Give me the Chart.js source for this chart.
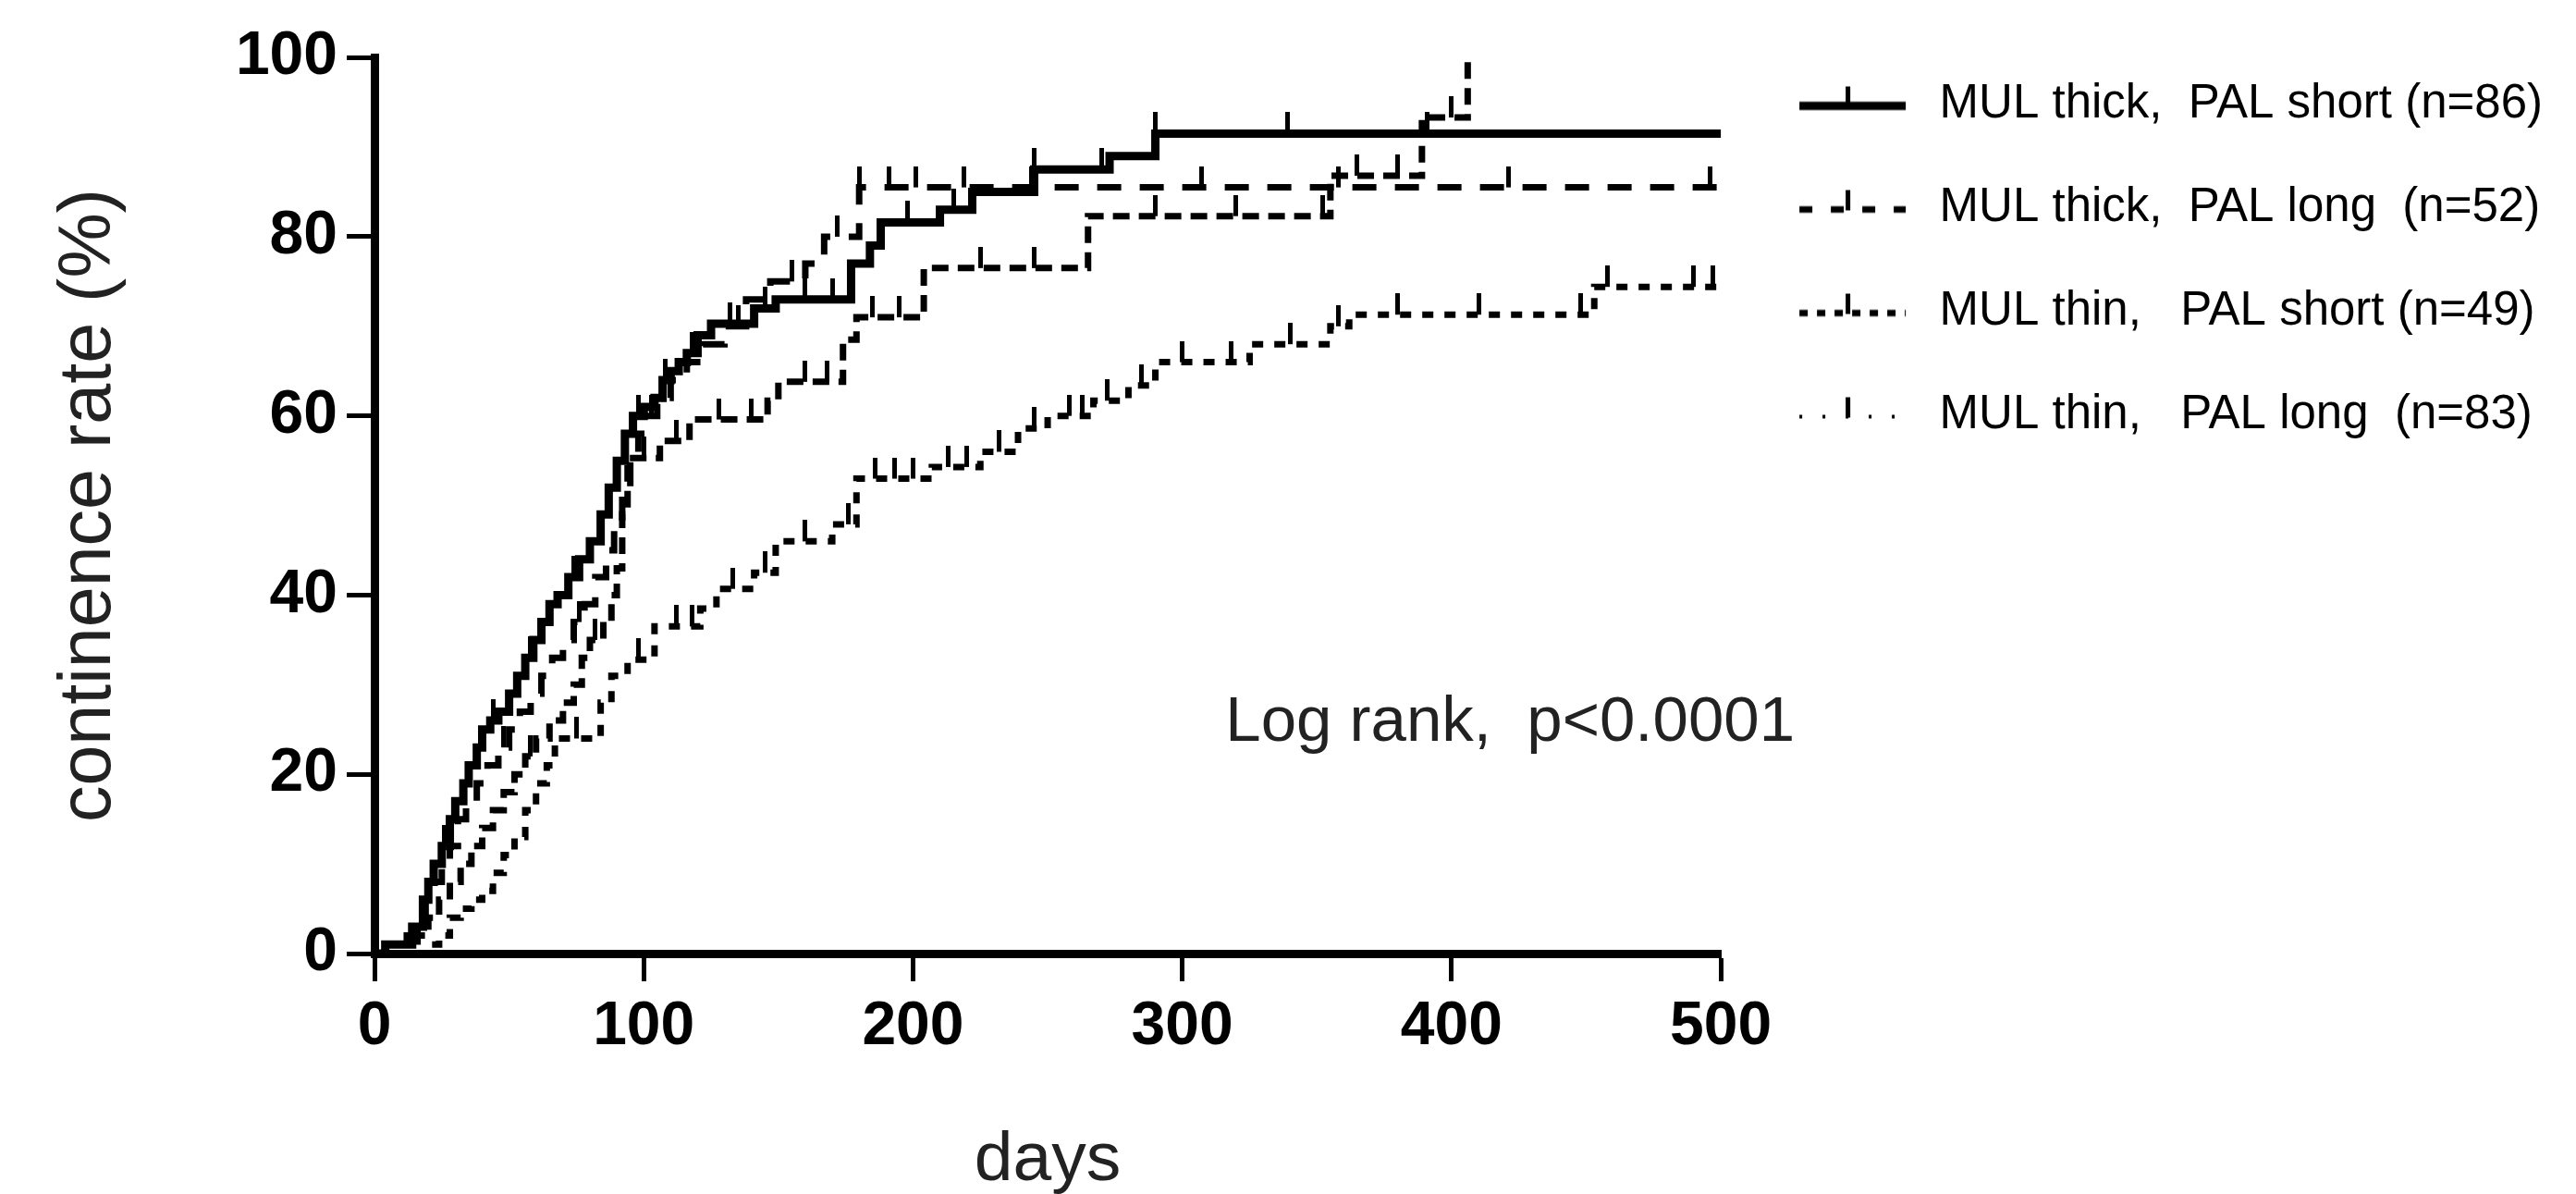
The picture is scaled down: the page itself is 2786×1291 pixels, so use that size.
<!DOCTYPE html>
<html lang="en">
<head>
    <meta charset="UTF-8">
    <title>Continence rate by MUL thickness and PAL</title>
    <script src="https://cdn.jsdelivr.net/npm/chart.js@4.4.0/dist/chart.umd.min.js"></script>
    <style>
        html, body {
            margin: 0;
            padding: 0;
            background: #ffffff;
        }
        #kmChart {
            display: block;
        }
    </style>
</head>
<body>
    <canvas id="kmChart" width="2786" height="1291"></canvas>

    <script>
        // Kaplan-Meier style step data (days -> continence rate %)
        const seriesLabels = [
            'MUL thick,  PAL short (n=86)',
            'MUL thick,  PAL long  (n=52)',
            'MUL thin,   PAL short (n=49)',
            'MUL thin,   PAL long  (n=83)'
        ];

        const thickShortDays = [0, 4, 14, 18, 20, 22, 25, 28, 30, 33, 35, 38, 40, 43, 46, 50, 53, 56, 59, 62, 65, 68, 72, 76, 80, 84, 87, 90, 93, 96, 100, 104, 107, 110, 113, 116, 120, 125, 141, 149, 177, 184, 188, 210, 222, 245, 273, 290, 500];
        const thickShortRate = [0, 1, 3, 6, 8, 10, 12, 15, 17, 19, 21, 23, 25, 26, 27, 29, 31, 33, 35, 37, 39, 40, 42, 44, 46, 49, 52, 55, 58, 60, 61, 62, 64, 65, 66, 67, 69, 70.3, 72, 73, 77, 79, 81.6, 83, 85, 87.5, 89, 91.5, 91.5];
        const thickShortCensored = [26, 44, 58, 74, 98, 108, 118, 132, 145, 160, 170, 198, 215, 245, 270, 290, 339, 391];

        const thickLongDays = [0, 12, 16, 19, 22, 25, 28, 31, 34, 38, 42, 46, 50, 54, 58, 62, 66, 70, 74, 78, 82, 86, 89, 92, 95, 98, 101, 105, 110, 116, 122, 130, 138, 147, 160, 167, 180, 500];
        const thickLongRate = [0, 2, 4, 6, 8, 10, 12, 15, 17, 19, 21, 23, 25, 27, 29, 31, 33, 35, 37, 39, 42, 45, 48, 52, 56, 58, 60, 62, 64, 66, 68, 70, 73, 75, 77, 80, 85.5, 85.5];
        const thickLongCensored = [48, 76, 103, 135, 155, 172, 180, 191, 201, 219, 244, 307, 358, 421, 496];

        const thinShortDays = [0, 16, 20, 24, 28, 32, 36, 40, 44, 48, 52, 56, 60, 65, 70, 74, 77, 80, 85, 88, 90, 92, 94, 106, 117, 146, 150, 174, 179, 204, 265, 355, 389, 406];
        const thinShortRate = [0, 2, 4, 6, 8, 10, 12, 14, 16, 18, 20, 22, 24, 26, 28, 30, 33, 35, 37, 40, 43, 49, 55.3, 57.2, 59.6, 61.7, 63.8, 68.5, 71, 76.5, 82.3, 86.8, 93.3, 100];
        const thinShortCensored = [58, 82, 100, 112, 128, 140, 160, 168, 185, 195, 225, 245, 290, 320, 352, 365, 380, 400];

        const thinLongDays = [0, 20, 24, 28, 32, 36, 40, 44, 48, 52, 56, 60, 64, 67, 84, 88, 94, 104, 121, 127, 141, 149, 170, 179, 207, 225, 239, 250, 267, 280, 290, 325, 355, 362, 453, 500];
        const thinLongRate = [0, 1, 2, 4, 5, 6, 7, 9, 11, 13, 16, 19, 21, 24, 28, 31, 32.8, 36.5, 38.5, 40.7, 42.5, 46, 47.9, 53, 54.3, 56, 58.6, 60, 61.7, 63.4, 66, 68, 70, 71.3, 74.4, 74.4];
        const thinLongCensored = [75, 98, 112, 118, 133, 145, 160, 176, 186, 193, 200, 213, 220, 232, 245, 258, 263, 272, 285, 300, 318, 340, 358, 380, 410, 448, 458, 490, 497];

        const xTicks = [0, 100, 200, 300, 400, 500];
        const yTicks = [0, 20, 40, 60, 80, 100];

        const logRankText = 'Log rank,  p<0.0001';
        const logRankAt = { day: 316, rate: 25.7 };

        // line styles per group
        const lineDashes = [[], [26, 20], [18, 10], [12, 12]];
        const lineWidths = [9, 7, 7, 7];

        const W = 2786;
        const plotLeft = 405, plotRight = 1861, plotBottom = 1031;
        const legendFont = '51px "Liberation Sans", Arial, sans-serif';
        const legendPad = 61, sampleWidth = 150;

        // value of a step curve at a given day
        function stepAt(days, rates, d) {
            let v = rates[0];
            for (let i = 0; i < days.length; i++) {
                if (days[i] <= d) v = rates[i];
            }
            return v;
        }

        // upward censor tick, centred on the curve
        function makeCensorMark() {
            const c = document.createElement('canvas');
            c.width = 5;
            c.height = 46;
            const g = c.getContext('2d');
            g.fillStyle = '#000';
            g.fillRect(0, 0, 5, 23);
            return c;
        }

        // legend line sample with a censor tick
        function makeSample(dash, width) {
            const c = document.createElement('canvas');
            c.width = sampleWidth;
            c.height = 50;
            const g = c.getContext('2d');
            g.strokeStyle = '#000';
            g.lineWidth = width;
            g.setLineDash(dash);
            g.beginPath();
            g.moveTo(24, 27);
            g.lineTo(139, 27);
            g.stroke();
            g.fillStyle = '#000';
            g.fillRect(74, 6, 5, 22);
            return c;
        }

        const censorMark = makeCensorMark();
        const samples = [
            makeSample([], 9),
            makeSample([14, 20], 7),
            makeSample([9, 10], 7),
            makeSample([3, 22], 4)
        ];

        const curveDays = [thickShortDays, thickLongDays, thinShortDays, thinLongDays];
        const curveRates = [thickShortRate, thickLongRate, thinShortRate, thinLongRate];
        const curveCensored = [thickShortCensored, thickLongCensored, thinShortCensored, thinLongCensored];

        const datasets = [];
        curveDays.forEach((days, k) => {
            datasets.push({
                label: seriesLabels[k],
                data: days.map((d, i) => ({ x: d, y: curveRates[k][i] })),
                stepped: true,
                borderColor: '#000',
                backgroundColor: '#000',
                borderWidth: lineWidths[k],
                borderDash: lineDashes[k],
                borderCapStyle: 'butt',
                pointRadius: 0,
                pointHoverRadius: 0,
                pointStyle: samples[k],
                fill: false,
                clip: false
            });
        });
        curveCensored.forEach((cens, k) => {
            datasets.push({
                label: 'censored',
                data: cens.map(d => ({ x: d, y: stepAt(curveDays[k], curveRates[k], d) })),
                showLine: false,
                pointStyle: censorMark,
                pointRadius: 5,
                pointHoverRadius: 5,
                clip: false
            });
        });

        // legend width from its text, so the plot ends where the legend starts
        const measure = document.createElement('canvas').getContext('2d');
        measure.font = legendFont;
        const maxText = Math.max(...seriesLabels.map(t => measure.measureText(t).width));
        const legendWidth = Math.ceil(legendPad + sampleWidth + 25.5 + maxText + 10);
        const padRight = Math.max(0, W - plotRight - legendWidth);

        const logRankPlugin = {
            id: 'logRank',
            afterDatasetsDraw(chart) {
                const { ctx, scales: { x, y } } = chart;
                ctx.save();
                ctx.font = '69px "Liberation Sans", Arial, sans-serif';
                ctx.fillStyle = '#222';
                ctx.textBaseline = 'middle';
                ctx.textAlign = 'left';
                ctx.fillText(logRankText, x.getPixelForValue(logRankAt.day), y.getPixelForValue(logRankAt.rate));
                ctx.restore();
            }
        };

        const tickFont = { family: "'Liberation Sans Narrow', 'Liberation Sans', Arial, sans-serif", size: 66, weight: 'bold' };

        new Chart(document.getElementById('kmChart'), {
            type: 'line',
            data: { datasets },
            plugins: [logRankPlugin],
            options: {
                responsive: false,
                animation: false,
                devicePixelRatio: 1,
                layout: {
                    padding: { left: 58, top: 26, bottom: 2, right: padRight }
                },
                scales: {
                    x: {
                        type: 'linear',
                        min: 0,
                        max: 500,
                        afterBuildTicks: s => { s.ticks = xTicks.map(v => ({ value: v })); },
                        afterFit: s => { s.height = 1289 - plotBottom; },
                        ticks: {
                            color: '#000',
                            font: tickFont,
                            padding: 10
                        },
                        grid: {
                            drawOnChartArea: false,
                            drawTicks: true,
                            tickLength: 30,
                            tickWidth: 5,
                            tickColor: '#000'
                        },
                        border: { display: true, color: '#000', width: 9 },
                        title: {
                            display: true,
                            text: 'days',
                            color: '#222',
                            font: { family: "'Liberation Sans', Arial, sans-serif", size: 75, lineHeight: 0.9 },
                            padding: { top: 0, bottom: 0 }
                        }
                    },
                    y: {
                        type: 'linear',
                        min: 0,
                        max: 100,
                        afterBuildTicks: s => { s.ticks = yTicks.map(v => ({ value: v })); },
                        afterFit: s => { s.width = plotLeft - 58; },
                        ticks: {
                            color: '#000',
                            font: Object.assign({}, tickFont, { lineHeight: 1.58 }),
                            padding: 10
                        },
                        grid: {
                            drawOnChartArea: false,
                            drawTicks: true,
                            tickLength: 30,
                            tickWidth: 5,
                            tickColor: '#000'
                        },
                        border: { display: true, color: '#000', width: 9 },
                        title: {
                            display: true,
                            text: 'continence rate (%)',
                            color: '#222',
                            font: { family: "'Liberation Sans', Arial, sans-serif", size: 79, lineHeight: 1.0 },
                            padding: { top: 0, bottom: 0 }
                        }
                    }
                },
                plugins: {
                    legend: {
                        position: 'right',
                        align: 'start',
                        maxWidth: legendWidth + 1,
                        labels: {
                            usePointStyle: true,
                            pointStyleWidth: sampleWidth,
                            padding: legendPad,
                            color: '#000',
                            font: { family: "'Liberation Sans', Arial, sans-serif", size: 51 },
                            filter: item => item.datasetIndex < 4
                        }
                    },
                    tooltip: { enabled: false }
                }
            }
        });
    </script>
</body>
</html>
